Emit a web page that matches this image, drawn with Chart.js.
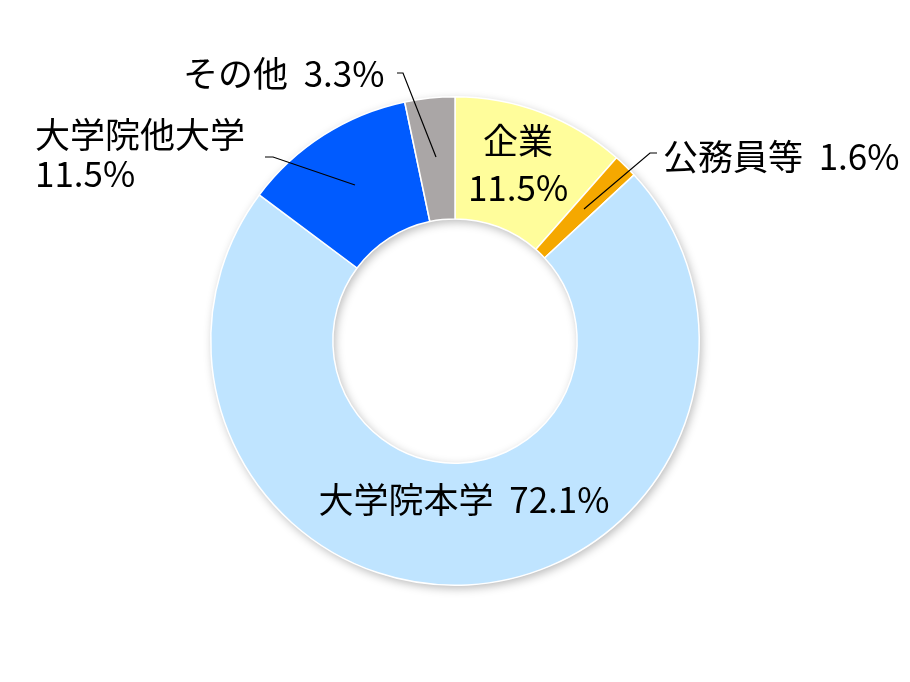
<!DOCTYPE html>
<html>
<head>
<meta charset="utf-8">
<script src="https://cdn.jsdelivr.net/npm/chart.js@4.4.0/dist/chart.umd.min.js"></script>
<style>
  html, body { margin: 0; padding: 0; background: #fff; }
  #c { display: block; }
</style>
</head>
<body>
<canvas id="c" width="910" height="682"></canvas>
<script>
const categories = ['企業', '公務員等', '大学院本学', '大学院他大学', 'その他'];
const shares = [11.5, 1.6, 72.1, 11.5, 3.3];
const colors = ['#FFFD9B', '#F5A800', '#BFE4FF', '#005BFF', '#AAA6A6'];

const FONT = '35px "Noto Sans CJK JP", "Noto Sans", sans-serif';

// text boxes and leader lines for each slice
const labels = [
    { lines: [categories[0], shares[0].toFixed(1) + '%'], x: 518, y: [141, 188], align: 'center' },
    { lines: [categories[1] + '  ' + shares[1].toFixed(1) + '%'], x: 663, y: [157], align: 'left',
      leader: [[657, 153], [650, 153], [584, 209]] },
    { lines: [categories[2] + '  ' + shares[2].toFixed(1) + '%'], x: 464, y: [500], align: 'center' },
    { lines: [categories[3], shares[3].toFixed(1) + '%'], x: 35, y: [135, 174], align: 'left',
      leader: [[265, 157], [273, 157], [355, 185]] },
    { lines: [categories[4] + '  ' + shares[4].toFixed(1) + '%'], x: 183, y: [74], align: 'left',
      leader: [[397, 73], [403, 73], [436, 157]] }
];

// soft shadow under the whole ring
const ringShadow = {
    id: 'ringShadow',
    beforeDatasetsDraw(chart) {
        const arc = chart.getDatasetMeta(0).data[0];
        if (!arc) return;
        const { x, y, outerRadius, innerRadius } = arc.getProps(['x', 'y', 'outerRadius', 'innerRadius'], true);
        const ctx = chart.ctx;
        ctx.save();
        ctx.shadowColor = 'rgba(0,0,0,0.28)';
        ctx.shadowBlur = 10;
        ctx.shadowOffsetX = 2;
        ctx.shadowOffsetY = 3;
        ctx.fillStyle = '#fff';
        ctx.beginPath();
        ctx.arc(x, y, outerRadius, 0, Math.PI * 2);
        ctx.arc(x, y, innerRadius, 0, Math.PI * 2, true);
        ctx.fill();
        ctx.restore();
    }
};

const sliceLabels = {
    id: 'sliceLabels',
    afterDatasetsDraw(chart) {
        const ctx = chart.ctx;
        ctx.save();
        ctx.font = FONT;
        ctx.fillStyle = '#000';
        ctx.textBaseline = 'middle';
        labels.forEach(l => {
            ctx.textAlign = l.align;
            l.lines.forEach((t, i) => ctx.fillText(t, l.x, l.y[i]));
            if (l.leader) {
                ctx.strokeStyle = '#000';
                ctx.lineWidth = 1.2;
                ctx.beginPath();
                l.leader.forEach((p, i) => i ? ctx.lineTo(p[0], p[1]) : ctx.moveTo(p[0], p[1]));
                ctx.stroke();
            }
        });
        ctx.restore();
    }
};

new Chart(document.getElementById('c'), {
    type: 'doughnut',
    data: {
        labels: categories,
        datasets: [{
            data: shares,
            backgroundColor: colors,
            borderColor: '#ffffff',
            borderWidth: 1.5,
            hoverOffset: 0
        }]
    },
    options: {
        responsive: false,
        animation: false,
        cutout: '50%',
        layout: { padding: { top: 96, bottom: 96, left: 210, right: 210 } },
        plugins: { legend: { display: false }, tooltip: { enabled: false } }
    },
    plugins: [ringShadow, sliceLabels]
});
</script>
</body>
</html>
